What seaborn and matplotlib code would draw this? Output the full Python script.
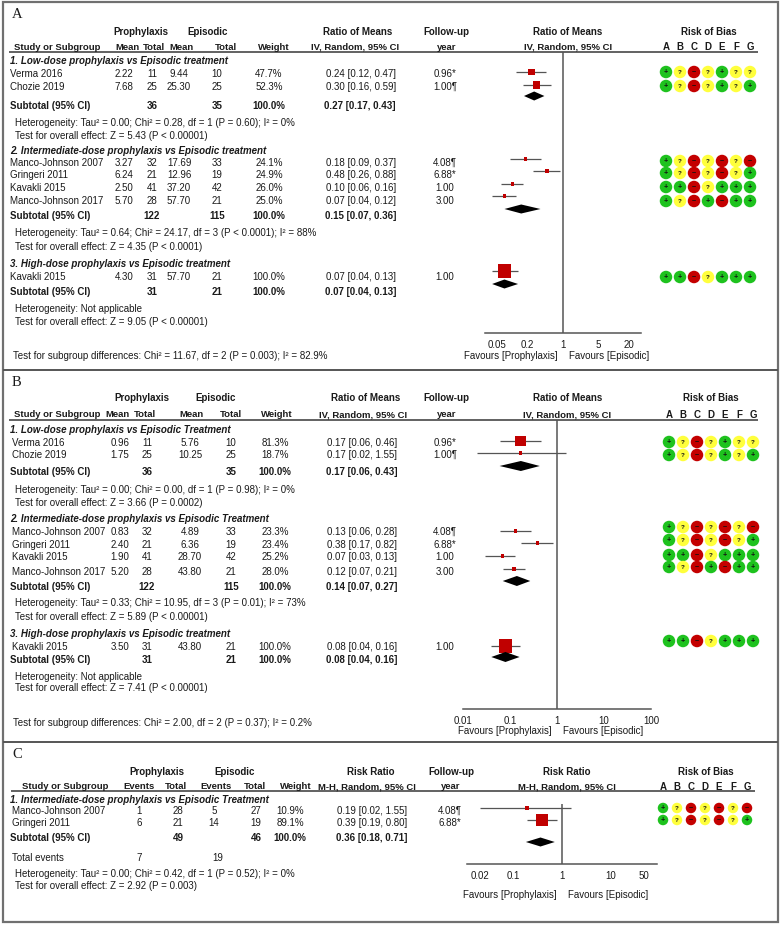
import numpy as np
import pandas as pd
import matplotlib
matplotlib.use("Agg")
import matplotlib.pyplot as plt
from matplotlib.patches import Rectangle
from matplotlib.ticker import NullLocator
import seaborn as sns

# ======================= DATA =======================
domains = ["A", "B", "C", "D", "E", "F", "G"]

# ---- Panel A : Ratio of Means ----
A_groups = ["1. Low-dose prophylaxis vs Episodic treatment",
            "2. Intermediate-dose prophylaxis vs Episodic treatment",
            "3. High-dose prophylaxis vs Episodic treatment"]
A_studies = ["Verma 2016", "Chozie 2019", "Manco-Johnson 2007", "Gringeri 2011",
             "Kavakli 2015", "Manco-Johnson 2017", "Kavakli 2015"]
A_group_id = [0, 0, 1, 1, 1, 1, 2]
A_proph_val = [2.22, 7.68, 3.27, 6.24, 2.50, 5.70, 4.30]
A_proph_n = [11, 25, 32, 21, 41, 28, 31]
A_epi_val = [9.44, 25.30, 17.69, 12.96, 37.20, 57.70, 57.70]
A_epi_n = [10, 25, 33, 19, 42, 21, 21]
A_weight = [47.7, 52.3, 24.1, 24.9, 26.0, 25.0, 100.0]
A_est = [0.24, 0.30, 0.18, 0.48, 0.10, 0.07, 0.07]
A_lo = [0.12, 0.16, 0.09, 0.26, 0.06, 0.04, 0.04]
A_hi = [0.47, 0.59, 0.37, 0.88, 0.16, 0.12, 0.13]
A_follow = ["0.96*", "1.00\u00b6", "4.08\u00b6", "6.88*", "1.00", "3.00", "1.00"]
A_rob = ["+?-?+??", "+?-?+?+", "+?-?-?-", "+?-?-?+", "++-?+++", "+?-+-++", "++-?+++"]
A_sub_weight = [100.0, 100.0, 100.0]
A_sub_est = [0.27, 0.15, 0.07]
A_sub_lo = [0.17, 0.07, 0.04]
A_sub_hi = [0.43, 0.36, 0.13]
A_het = ["Heterogeneity: Tau\u00b2 = 0.00; Chi\u00b2 = 0.28, df = 1 (P = 0.60); I\u00b2 = 0%",
         "Heterogeneity: Tau\u00b2 = 0.64; Chi\u00b2 = 24.17, df = 3 (P < 0.0001); I\u00b2 = 88%",
         "Heterogeneity: Not applicable"]
A_test = ["Test for overall effect: Z = 5.43 (P < 0.00001)",
          "Test for overall effect: Z = 4.35 (P < 0.0001)",
          "Test for overall effect: Z = 9.05 (P < 0.00001)"]
A_subgroup = "Test for subgroup differences: Chi\u00b2 = 11.67, df = 2 (P = 0.003); I\u00b2 = 82.9%"
A_ticks = [0.05, 0.2, 1, 5, 20]
A_ticklabels = ["0.05", "0.2", "1", "5", "20"]
A_hdr1 = ["Prophylaxis", "Episodic", "Ratio of Means", "Follow-up", "Ratio of Means", "Risk of Bias"]
A_hdr2 = ["Study or Subgroup", "Mean", "Total", "Mean", "Total", "Weight",
          "IV, Random, 95% CI", "year", "IV, Random, 95% CI"]

# ---- Panel B : Ratio of Means ----
B_groups = ["1. Low-dose prophylaxis vs Episodic Treatment",
            "2. Intermediate-dose prophylaxis vs Episodic Treatment",
            "3. High-dose prophylaxis vs Episodic treatment"]
B_studies = ["Verma 2016", "Chozie 2019", "Manco-Johnson 2007", "Gringeri 2011",
             "Kavakli 2015", "Manco-Johnson 2017", "Kavakli 2015"]
B_group_id = [0, 0, 1, 1, 1, 1, 2]
B_proph_val = [0.96, 1.75, 0.83, 2.40, 1.90, 5.20, 3.50]
B_proph_n = [11, 25, 32, 21, 41, 28, 31]
B_epi_val = [5.76, 10.25, 4.89, 6.36, 28.70, 43.80, 43.80]
B_epi_n = [10, 25, 33, 19, 42, 21, 21]
B_weight = [81.3, 18.7, 23.3, 23.4, 25.2, 28.0, 100.0]
B_est = [0.17, 0.17, 0.13, 0.38, 0.07, 0.12, 0.08]
B_lo = [0.06, 0.02, 0.06, 0.17, 0.03, 0.07, 0.04]
B_hi = [0.46, 1.55, 0.28, 0.82, 0.13, 0.21, 0.16]
B_follow = ["0.96*", "1.00\u00b6", "4.08\u00b6", "6.88*", "1.00", "3.00", "1.00"]
B_rob = ["+?-?+??", "+?-?+?+", "+?-?-?-", "+?-?-?+", "++-?+++", "+?-+-++", "++-?+++"]
B_sub_weight = [100.0, 100.0, 100.0]
B_sub_est = [0.17, 0.14, 0.08]
B_sub_lo = [0.06, 0.07, 0.04]
B_sub_hi = [0.43, 0.27, 0.16]
B_het = ["Heterogeneity: Tau\u00b2 = 0.00; Chi\u00b2 = 0.00, df = 1 (P = 0.98); I\u00b2 = 0%",
         "Heterogeneity: Tau\u00b2 = 0.33; Chi\u00b2 = 10.95, df = 3 (P = 0.01); I\u00b2 = 73%",
         "Heterogeneity: Not applicable"]
B_test = ["Test for overall effect: Z = 3.66 (P = 0.0002)",
          "Test for overall effect: Z = 5.89 (P < 0.00001)",
          "Test for overall effect: Z = 7.41 (P < 0.00001)"]
B_subgroup = "Test for subgroup differences: Chi\u00b2 = 2.00, df = 2 (P = 0.37); I\u00b2 = 0.2%"
B_ticks = [0.01, 0.1, 1, 10, 100]
B_ticklabels = ["0.01", "0.1", "1", "10", "100"]
B_hdr1 = ["Prophylaxis", "Episodic", "Ratio of Means", "Follow-up", "Ratio of Means", "Risk of Bias"]
B_hdr2 = ["Study or Subgroup", "Mean", "Total", "Mean", "Total", "Weight",
          "IV, Random, 95% CI", "year", "IV, Random, 95% CI"]

# ---- Panel C : Risk Ratio ----
C_groups = ["1. Intermediate-dose prophylaxis vs Episodic Treatment"]
C_studies = ["Manco-Johnson 2007", "Gringeri 2011"]
C_group_id = [0, 0]
C_proph_val = [1, 6]
C_proph_n = [28, 21]
C_epi_val = [5, 14]
C_epi_n = [27, 19]
C_weight = [10.9, 89.1]
C_est = [0.19, 0.39]
C_lo = [0.02, 0.19]
C_hi = [1.55, 0.80]
C_follow = ["4.08\u00b6", "6.88*"]
C_rob = ["+?-?-?-", "+?-?-?+"]
C_sub_weight = [100.0]
C_sub_est = [0.36]
C_sub_lo = [0.18]
C_sub_hi = [0.71]
C_het = ["Heterogeneity: Tau\u00b2 = 0.00; Chi\u00b2 = 0.42, df = 1 (P = 0.52); I\u00b2 = 0%"]
C_test = ["Test for overall effect: Z = 2.92 (P = 0.003)"]
C_ticks = [0.02, 0.1, 1, 10, 50]
C_ticklabels = ["0.02", "0.1", "1", "10", "50"]
C_hdr1 = ["Prophylaxis", "Episodic", "Risk Ratio", "Follow-up", "Risk Ratio", "Risk of Bias"]
C_hdr2 = ["Study or Subgroup", "Events", "Total", "Events", "Total", "Weight",
          "M-H, Random, 95% CI", "year", "M-H, Random, 95% CI"]

favours = ["Favours [Prophylaxis]", "Favours [Episodic]"]

# ======================= STYLE =======================
sns.set_theme(style="white")
SANS = ["Liberation Sans", "DejaVu Sans"]
plt.rcParams["font.family"] = SANS
FS = 7.0
FSB1 = 7.0
FSB2 = 6.8
TXT = "#1a1a1a"
LINE = "#555555"
RED_SQ = "#c00000"
ROB_COL = {"+": "#1ec21e", "?": "#ffff3c", "-": "#c40000"}
ROB_SYM = {"+": "+", "?": "?", "-": "\u2212"}

W, H = 781, 928
fig = plt.figure(figsize=(W / 100, H / 100), dpi=100)
fig.patch.set_facecolor("white")
bg = fig.add_axes([0, 0, 1, 1])
bg.set_xlim(0, W)
bg.set_ylim(H, 0)
bg.axis("off")


def px_axes(x0, y0, x1, y1):
    ax = fig.add_axes([x0 / W, 1 - y1 / H, (x1 - x0) / W, (y1 - y0) / H])
    ax.patch.set_alpha(0)
    return ax


def txt(x, y, s, ha="center", bold=False, italic=False, size=FS, color=TXT):
    bg.text(x, y, s, ha=ha, va="center", fontsize=size, color=color,
            fontweight="bold" if bold else "normal",
            fontstyle="italic" if italic else "normal")


def fmt_val(v, kind):
    return f"{v:.2f}" if kind == "mean" else f"{v:d}"


def draw_panel(D, L):
    # panel letter
    bg.text(12, L["letter_y"], D["letter"], ha="left", va="center",
            fontsize=10.5, family=["Liberation Serif", "DejaVu Serif"], color=TXT)
    # headers
    for s, x in zip(D["hdr1"], L["hdr1_x"]):
        txt(x, L["hdr1_y"], s, bold=True, size=FSB1)
    for s, x in zip(D["hdr2"], L["hdr2_x"]):
        txt(x, L["hdr2_y"], s, bold=True, size=FSB2)
    for i, d in enumerate(domains):
        txt(L["rob_x0"] + 14 * i, L["hdr2_y"], d, bold=True, size=FSB1)
    bg.hlines(L["uline_y"], L["uline_x"][0], L["uline_x"][1], color=LINE, lw=1.3)

    cx = L["col_x"]
    n = len(D["studies"])
    for g, gname in enumerate(D["groups"]):
        txt(10, L["sec_y"][g], gname, ha="left", bold=True, italic=True)
        idx = [i for i in range(n) if D["group_id"][i] == g]
        for i in idx:
            y = L["study_y"][i]
            txt(L["name_x"], y, D["studies"][i], ha="left")
            txt(cx[0], y, fmt_val(D["pv"][i], D["kind"]))
            txt(cx[1], y, str(D["pn"][i]))
            txt(cx[2], y, fmt_val(D["ev"][i], D["kind"]))
            txt(cx[3], y, str(D["en"][i]))
            txt(cx[4], y, f"{D['w'][i]:.1f}%")
            txt(cx[5], y, f"{D['est'][i]:.2f} [{D['lo'][i]:.2f}, {D['hi'][i]:.2f}]", ha="right")
            txt(cx[6], y, D["follow"][i])
        ys = L["sub_y"][g]
        txt(10, ys, "Subtotal (95% CI)", ha="left", bold=True)
        txt(cx[1], ys, str(sum(D["pn"][i] for i in idx)), bold=True)
        txt(cx[3], ys, str(sum(D["en"][i] for i in idx)), bold=True)
        txt(cx[4], ys, f"{D['sw'][g]:.1f}%", bold=True)
        txt(cx[5], ys, f"{D['sest'][g]:.2f} [{D['slo'][g]:.2f}, {D['shi'][g]:.2f}]",
            ha="right", bold=True)
        if D.get("total_events"):
            yt = L["totev_y"]
            txt(12, yt, "Total events", ha="left")
            txt(cx[0], yt, str(sum(D["pv"][i] for i in idx)))
            txt(cx[2] + 4, yt, str(sum(D["ev"][i] for i in idx)))
        txt(15, L["het_y"][g], D["het"][g], ha="left")
        txt(15, L["test_y"][g], D["test"][g], ha="left")
    if D.get("subgroup"):
        txt(13, L["subgroup_y"], D["subgroup"], ha="left")

    # ---------------- forest plot ----------------
    c, ppd, half = L["f_center"], L["f_ppd"], L["f_half"]
    fy0, fy1 = L["f_y"]
    ax = px_axes(c - ppd * half, fy0, c + ppd * half, fy1)
    ax.set_xscale("log")
    ax.axvline(1, color=LINE, lw=1.1, zorder=1)
    ax.hlines(L["mark_y"], D["lo"], D["hi"], color=LINE, lw=0.9, zorder=2)
    side_px = np.maximum(0.135 * np.array(D["w"]), 3.2)
    sizes = (side_px / 1.389) ** 2
    sns.scatterplot(x=D["est"], y=L["mark_y"], marker="s", s=sizes, color=RED_SQ,
                    edgecolor="none", linewidth=0, legend=False, ax=ax, zorder=3)
    hh = L["dia_h"] / 2
    for g in range(len(D["groups"])):
        yd = L["dia_y"][g]
        ax.fill([D["slo"][g], D["sest"][g], D["shi"][g], D["sest"][g]],
                [yd, yd - hh, yd, yd + hh], color="black", lw=0, zorder=3)
    ax.set_xlim(10 ** -half, 10 ** half)
    ax.set_ylim(fy1, fy0)
    ax.set_xlabel("")
    ax.set_ylabel("")
    ax.set_yticks([])
    ax.set_xticks(D["ticks"])
    ax.set_xticklabels(D["ticklabels"])
    ax.xaxis.set_minor_locator(NullLocator())
    for sp in ["top", "left", "right"]:
        ax.spines[sp].set_visible(False)
    ax.spines["bottom"].set_color(LINE)
    ax.spines["bottom"].set_linewidth(1.1)
    ax.tick_params(axis="x", direction="inout", length=7, width=1.1, color=LINE,
                   labelsize=FS, labelcolor=TXT, pad=0.5)
    ax.grid(False)
    txt(c - 5, L["fav_y"], favours[0], ha="right")
    txt(c + 6, L["fav_y"], favours[1], ha="left")

    # ---------------- risk of bias ----------------
    rx0 = L["rob_x0"]
    ry = L["rob_y"]
    ry0, ry1 = min(ry) - 10, max(ry) + 10
    rax = px_axes(rx0 - 7, ry0, rx0 + 6 * 14 + 7, ry1)
    recs = [(j, ry[i], D["rob"][i][j]) for i in range(len(D["rob"])) for j in range(7)]
    df = pd.DataFrame(recs, columns=["dom", "y", "judg"])
    sns.scatterplot(data=df, x="dom", y="y", hue="judg", palette=ROB_COL,
                    s=(L["rob_d"] / 1.389) ** 2, edgecolor="none", linewidth=0,
                    legend=False, ax=rax)
    for r in df.itertuples():
        rax.text(r.dom, r.y, ROB_SYM[r.judg], ha="center", va="center",
                 fontsize=5.2 if r.judg != "?" else 4.6, fontweight="bold",
                 color="#111111")
    rax.set_xlim(-0.5, 6.5)
    rax.set_ylim(ry1, ry0)
    rax.axis("off")


# ----- Panel A -----
draw_panel(
    dict(letter="A", groups=A_groups, studies=A_studies, group_id=A_group_id,
         pv=A_proph_val, pn=A_proph_n, ev=A_epi_val, en=A_epi_n, w=A_weight,
         est=A_est, lo=A_lo, hi=A_hi, follow=A_follow, rob=A_rob, sw=A_sub_weight,
         sest=A_sub_est, slo=A_sub_lo, shi=A_sub_hi, het=A_het, test=A_test,
         subgroup=A_subgroup, ticks=A_ticks, ticklabels=A_ticklabels,
         hdr1=A_hdr1, hdr2=A_hdr2, kind="mean"),
    dict(letter_y=15, hdr1_y=32, hdr2_y=47, uline_y=53, uline_x=(9, 758),
         hdr1_x=[141, 208, 358, 446, 568, 709],
         hdr2_x=[57, 127, 154, 182, 226, 274, 355, 447, 568],
         col_x=[124, 152, 179, 217, 269, 396, 445], name_x=10,
         sec_y=[61, 151, 264], study_y=[74, 87, 163, 175, 188, 201, 277],
         sub_y=[106, 216, 292], het_y=[123, 233, 309], test_y=[136, 247, 322],
         subgroup_y=356, fav_y=356,
         f_center=563, f_ppd=50.7, f_half=1.53, f_y=(53, 334),
         mark_y=[73, 86, 160, 172, 185, 197, 272], dia_y=[97, 210, 285], dia_h=9,
         rob_x0=666, rob_y=[73, 87, 162, 174, 188, 202, 278], rob_d=12.5))

# ----- Panel B -----
draw_panel(
    dict(letter="B", groups=B_groups, studies=B_studies, group_id=B_group_id,
         pv=B_proph_val, pn=B_proph_n, ev=B_epi_val, en=B_epi_n, w=B_weight,
         est=B_est, lo=B_lo, hi=B_hi, follow=B_follow, rob=B_rob, sw=B_sub_weight,
         sest=B_sub_est, slo=B_sub_lo, shi=B_sub_hi, het=B_het, test=B_test,
         subgroup=B_subgroup, ticks=B_ticks, ticklabels=B_ticklabels,
         hdr1=B_hdr1, hdr2=B_hdr2, kind="mean"),
    dict(letter_y=383, hdr1_y=398, hdr2_y=415, uline_y=421, uline_x=(9, 758),
         hdr1_x=[142, 216, 366, 446, 568, 711],
         hdr2_x=[57, 118, 145, 191, 231, 277, 363, 447, 567],
         col_x=[120, 147, 190, 231, 275, 397, 445], name_x=12,
         sec_y=[430, 519, 634], study_y=[443, 455, 532, 545, 557, 572, 647],
         sub_y=[472, 587, 660], het_y=[490, 603, 677], test_y=[503, 617, 688],
         subgroup_y=723, fav_y=731,
         f_center=557, f_ppd=47, f_half=2.0, f_y=(421, 710),
         mark_y=[442, 454, 532, 544, 557, 570, 647], dia_y=[467, 582, 658], dia_h=10,
         rob_x0=669, rob_y=[443, 456, 528, 541, 556, 568, 642], rob_d=12.5))

# ----- Panel C -----
draw_panel(
    dict(letter="C", groups=C_groups, studies=C_studies, group_id=C_group_id,
         pv=C_proph_val, pn=C_proph_n, ev=C_epi_val, en=C_epi_n, w=C_weight,
         est=C_est, lo=C_lo, hi=C_hi, follow=C_follow, rob=C_rob, sw=C_sub_weight,
         sest=C_sub_est, slo=C_sub_lo, shi=C_sub_hi, het=C_het, test=C_test,
         subgroup=None, ticks=C_ticks, ticklabels=C_ticklabels,
         hdr1=C_hdr1, hdr2=C_hdr2, kind="events", total_events=True),
    dict(letter_y=755, hdr1_y=772, hdr2_y=787, uline_y=792, uline_x=(11, 755),
         hdr1_x=[157, 235, 371, 451, 567, 706],
         hdr2_x=[65, 139, 176, 216, 255, 296, 367, 451, 567],
         col_x=[139, 178, 214, 256, 290, 407, 450], name_x=12,
         sec_y=[800], study_y=[811, 823], sub_y=[838], totev_y=858,
         het_y=[874], test_y=[886], fav_y=895,
         f_center=562, f_ppd=48.5, f_half=1.96, f_y=(805, 865),
         mark_y=[809, 821], dia_y=[843], dia_h=9,
         rob_x0=663, rob_y=[809, 821], rob_d=10.5))

# frame and separators
bg.add_patch(Rectangle((3, 3), 775, 920, fill=False, ec="#707070", lw=1.6))
bg.hlines([371, 743], 3, 778, color="#555555", lw=1.4)

fig.savefig("out.png", dpi=100, facecolor="white")
